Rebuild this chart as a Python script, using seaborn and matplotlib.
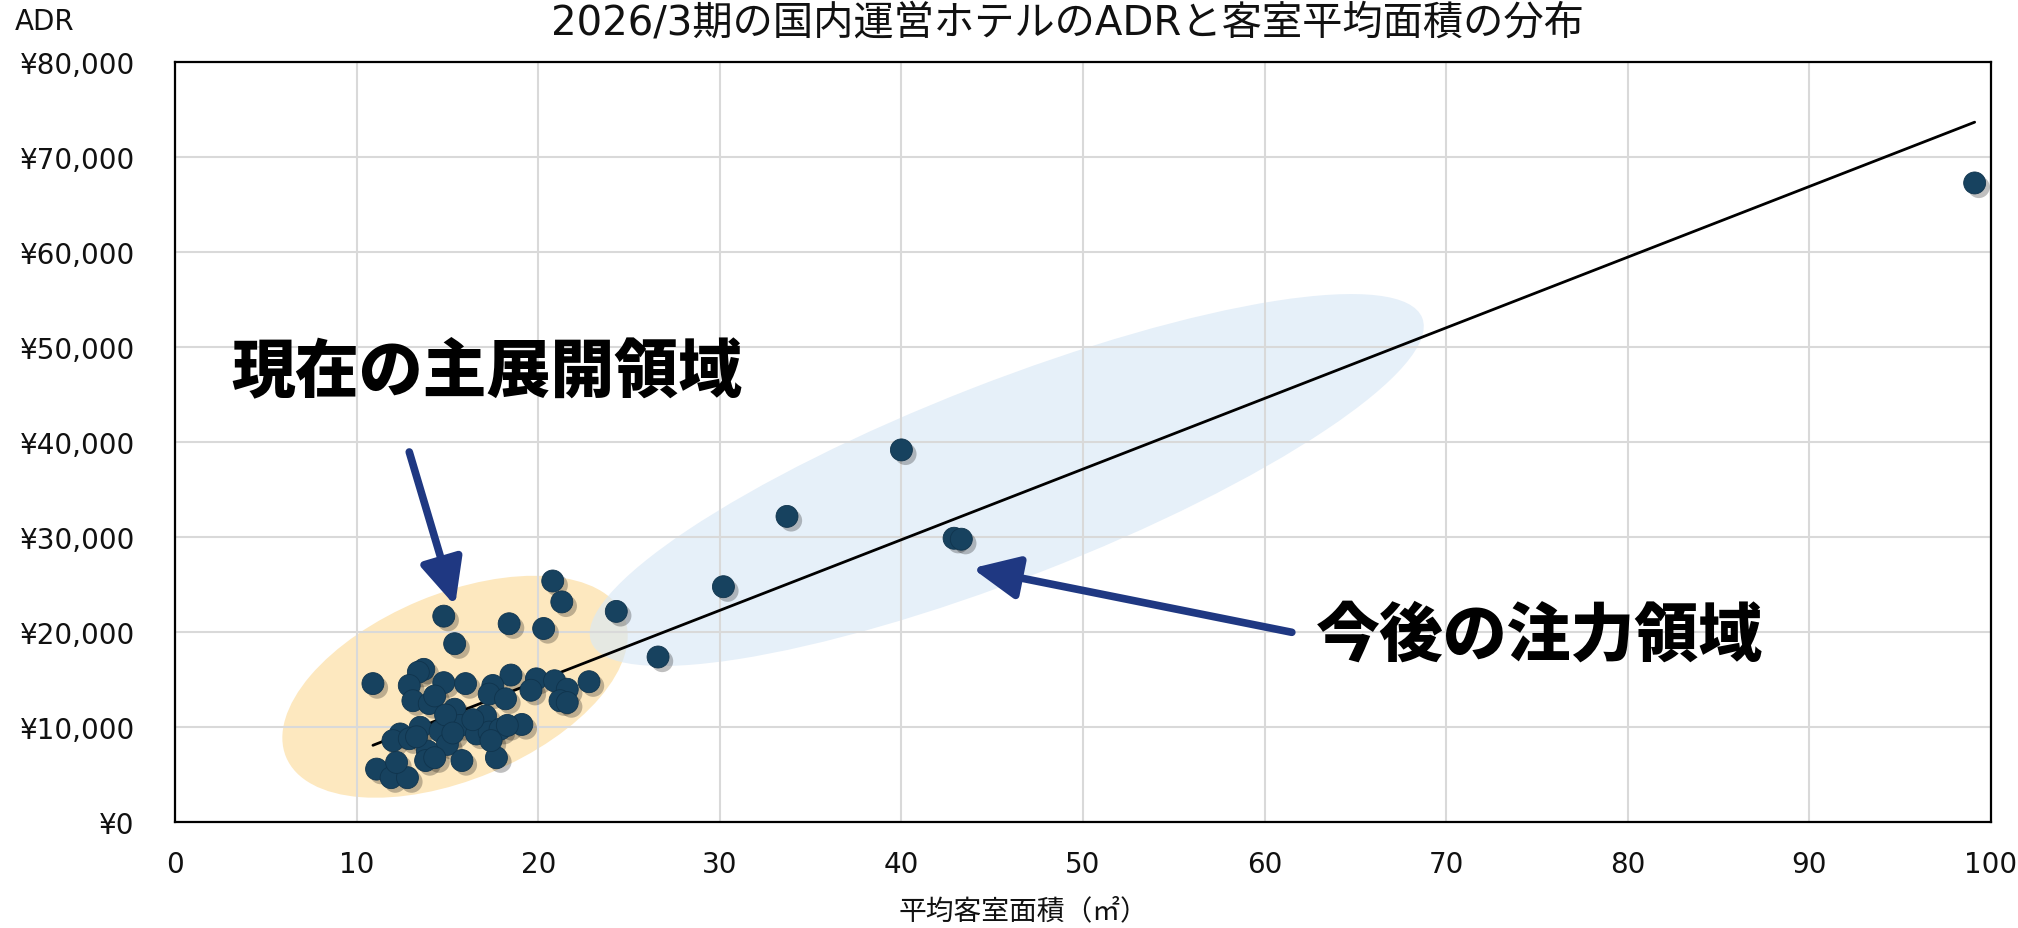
import numpy as np
import pandas as pd
import matplotlib
matplotlib.use("Agg")
import matplotlib.pyplot as plt
import matplotlib.patheffects as pe
from matplotlib.patches import Ellipse
from matplotlib.transforms import IdentityTransform
import seaborn as sns

# 平均客室面積（㎡）
area = [
    99.1, 40.0, 33.7, 42.9, 43.3, 30.2, 26.6, 24.3,
    20.8, 21.3, 14.8, 18.4, 20.3, 15.4,
    10.9, 13.7, 13.4, 12.9, 14.8, 16.0, 18.5, 17.5, 17.3, 19.9,
    20.9, 21.6, 22.8, 18.2, 19.6, 21.2, 21.6, 13.1, 14.0, 14.3,
    15.4, 17.1, 19.1, 12.4, 13.5, 14.6, 15.7, 16.6, 17.3, 17.9,
    15.0, 12.0, 12.9, 13.9, 11.1, 11.9, 12.8, 12.2, 13.8, 14.3,
    15.8, 17.7, 17.4, 14.9, 16.4, 13.3, 15.3, 18.3,
]
# ADR（円）
adr = [
    67300, 39200, 32200, 29900, 29800, 24800, 17400, 22200,
    25400, 23200, 21700, 20900, 20400, 18800,
    14600, 16100, 15800, 14400, 14700, 14600, 15500, 14400, 13500, 15100,
    14900, 14000, 14800, 13000, 13900, 12800, 12600, 12800, 12500, 13300,
    11900, 11200, 10300, 9300, 10000, 9600, 10200, 9300, 9500, 9800,
    8200, 8600, 8800, 7500, 5600, 4700, 4700, 6300, 6500, 6800,
    6500, 6800, 8600, 11300, 10800, 9000, 9400, 10200,
]

title = "2026/3期の国内運営ホテルのADRと客室平均面積の分布"
x_label = "平均客室面積（㎡）"
y_label = "ADR"
label_main = "現在の主展開領域"
label_next = "今後の注力領域"

x_ticks = list(range(0, 101, 10))
y_ticks = list(range(0, 80001, 10000))

df = pd.DataFrame({"area": area, "adr": adr})

sns.set_style("white")
plt.rcParams["font.family"] = ["DejaVu Sans", "Noto Sans CJK JP"]

W, H = 2018, 929
fig = plt.figure(figsize=(W / 100, H / 100), dpi=100)
ax = fig.add_axes([175 / W, 1 - 823.3 / H, (1991 - 175) / W, (823.3 - 63.3) / H])

ax.set_xlim(0, 100)
ax.set_ylim(0, 80000)
ax.set_xticks(x_ticks)
ax.set_yticks(y_ticks)
ax.set_xticklabels([str(t) for t in x_ticks])
ax.set_yticklabels([f"¥{t:,}" for t in y_ticks])
ax.tick_params(axis="both", length=0, labelsize=20, colors="#111111")
ax.tick_params(axis="y", pad=29)
ax.tick_params(axis="x", pad=20)
ax.set_axisbelow(True)
ax.grid(True, color="#d9d9d9", lw=1.5)
for s in ax.spines.values():
    s.set_color("black")
    s.set_linewidth(1.6)

# highlight regions (center in data units, semi-axes in pixels)
def region(center, a, b, angle, color, alpha, z):
    cx, cy = ax.transData.transform(center)
    e = Ellipse((cx, cy), 2 * a, 2 * b, angle=angle, transform=IdentityTransform(),
                facecolor=color, edgecolor="none", alpha=alpha, zorder=z)
    ax.add_artist(e)

region((15.42, 14270), 183, 93, 22.6, "#fde8bf", 1.0, 0.3)
region((45.8, 36030), 446, 98, 21.3, "#d9e8f6", 0.65, 0.4)

# trend line (through origin)
xs = np.array(area)
ys = np.array(adr)
slope = np.sum(xs * ys) / np.sum(xs * xs)
line_x = np.array([xs.min(), xs.max()])
ax.plot(line_x, slope * line_x, color="black", lw=2, zorder=2)

sns.scatterplot(data=df, x="area", y="adr", s=250, color="#17425f",
                edgecolor="#10344d", linewidth=0.6, ax=ax, zorder=3, legend=False)
ax.collections[-1].set_path_effects([
    pe.SimplePatchShadow(offset=(3, -3), shadow_rgbFace="black", alpha=0.25),
    pe.Normal(),
])
ax.set_xlabel("")
ax.set_ylabel("")

arrow_col = "#1f3882"
aprops = dict(arrowstyle="-|>,head_length=1.4,head_width=0.65", color=arrow_col,
              lw=5.5, mutation_scale=20, shrinkA=0, shrinkB=0)
ax.annotate("", xy=(15.42, 22800), xytext=(12.9, 38980), arrowprops=aprops, zorder=4)
ax.annotate("", xy=(43.9, 26740), xytext=(61.5, 20000), arrowprops=aprops, zorder=4)

ax.text(3.1, 47400, label_main, fontsize=46, fontweight="heavy",
        family=["Noto Sans CJK JP"], ha="left", va="center", color="black", zorder=5)
ax.text(62.8, 19610, label_next, fontsize=46, fontweight="heavy",
        family=["Noto Sans CJK JP"], ha="left", va="center", color="black", zorder=5)

fig.text(1067 / W, 1 - 4 / H, title, fontsize=29, ha="center", va="top", color="#111111")
fig.text(15 / W, 1 - 22 / H, y_label, fontsize=20, ha="left", va="center", color="#111111")
fig.text(1023 / W, 1 - 911 / H, x_label, fontsize=20, ha="center", va="center", color="#111111")

fig.savefig("out.png", dpi=100)
